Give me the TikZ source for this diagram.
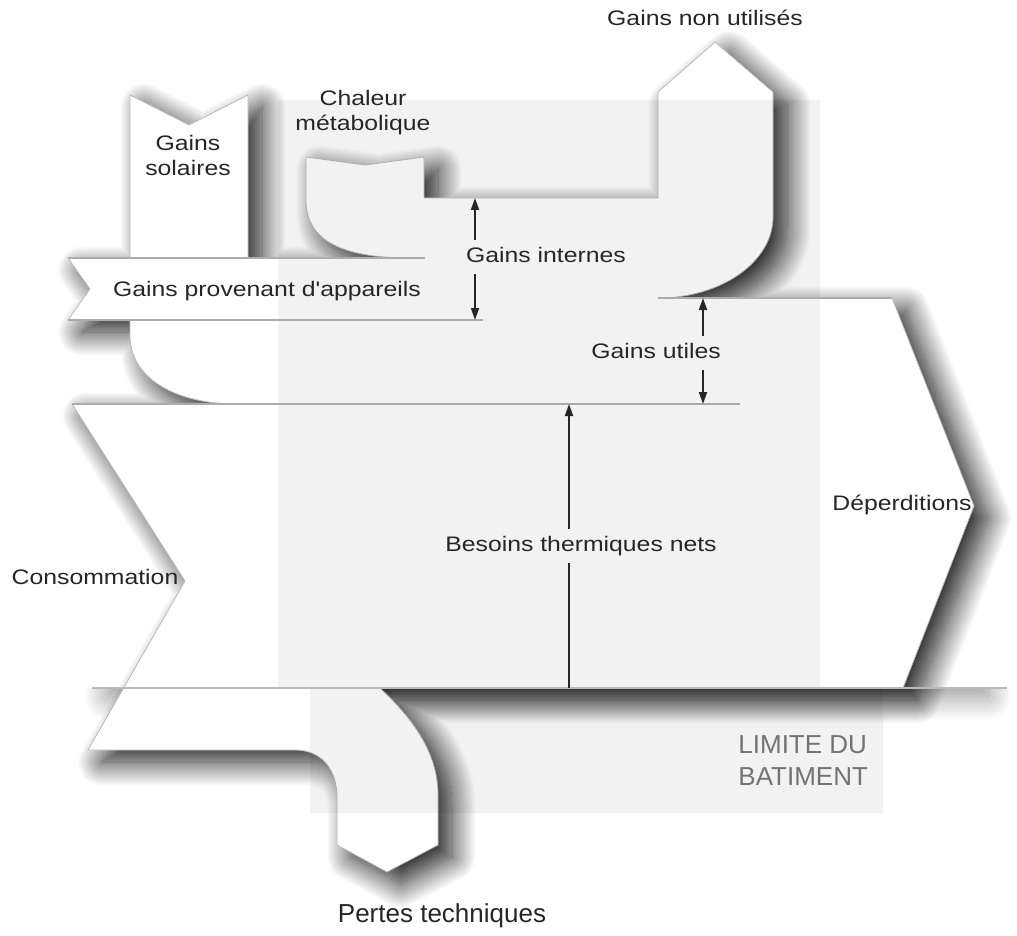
\documentclass[tikz,border=0pt]{standalone}
\usepackage{fontspec}
\setmainfont{Liberation Sans}
\newfontfamily\etiq[FakeStretch=1.18]{Liberation Sans}
\usetikzlibrary{arrows.meta,shadows.blur}

\tikzset{
  etiquette/.style={font={\etiq\fontsize{10.5}{12.6}\selectfont}, text=black!85,
    inner xsep=1pt, inner ysep=3pt, text height=8pt, text depth=2.5pt, align=center},
  grand/.style={font={\fontsize{13}{16}\selectfont}, inner sep=1pt},
  fleche/.style={-{Triangle[length=6pt,width=4pt]}, line width=0.9pt, black!85},
  tige/.style={line width=0.9pt, black!85},
  ombre/.style={blur shadow={shadow xshift=7pt, shadow yshift=-6pt,
    shadow blur radius=12pt, shadow blur steps=24, shadow opacity=90}},
  ombresol/.style={blur shadow={shadow xshift=4pt, shadow yshift=-4pt,
    shadow blur radius=12pt, shadow blur steps=18, shadow opacity=45}},
  trait/.style={line width=0.7pt, gray!65},
}

\begin{document}
\begin{tikzpicture}[x=0.5pt,y=-0.5pt]
    \useasboundingbox (0,0) rectangle (1017,936);

    % 地面线下方的阴影
    \begin{scope}
        \clip (0,688) rectangle (1017,936);
        \path[ombresol] (100,640) rectangle (980,688);
    \end{scope}

    % 能量流（整体一块白色）
    \filldraw[ombre, fill=white, draw=gray!55, line width=0.4pt]
        (130,95) -- (189,125) -- (248,95) -- (248,258) -- (412,258)
        .. controls (350,258) and (306,245) .. (306,200) -- (306,157)
        -- (365,165) -- (424,157) -- (424,198) -- (658,198) -- (658,92)
        -- (715,42) -- (773,92) -- (773,217)
        .. controls (773,262) and (721,298) .. (658,298) -- (892,298)
        -- (974,506) -- (903,688) -- (380,688)
        .. controls (412,718) and (438,752) .. (438,795) -- (438,845)
        -- (387,872) -- (337,845) -- (337,797)
        .. controls (337,770) and (322,750) .. (295,750) -- (88,750)
        -- (185,581) -- (72,404) -- (237,404)
        .. controls (178,404) and (130,380) .. (130,335) -- (130,320)
        -- (68,320) -- (90,289) -- (68,258) -- (130,258) -- cycle;

    % 建筑边界（浅灰）
    \fill[black, opacity=0.05] (278,100) rectangle (820,688) (310,688) rectangle (883,813);

    % 细分隔线
    \foreach \y/\xa/\xb in {258/68/425, 320/68/483, 404/72/740, 298/658/892} {
        \draw[trait] (\xa,\y) -- (\xb,\y);
    }
    \draw[line width=0.9pt, gray!55] (92,688) -- (1007,688);

    % 文字
    \node[etiquette] (nonutil) at (705,20) {Gains non utilisés};
    \node[etiquette, inner ysep=0pt] (chaleur) at (363,125) {Chaleur\\métabolique};
    \node[etiquette, inner ysep=0pt] (solaires) at (188,170) {Gains\\solaires};
    \node[etiquette] (appareils) at (267,291) {Gains provenant d'appareils};
    \node[etiquette] (internes) at (546,257) {Gains internes};
    \node[etiquette] (utiles) at (656,353) {Gains utiles};
    \node[etiquette] (besoins) at (581,546) {Besoins thermiques nets};
    \node[etiquette] (consom) at (95,579) {Consommation};
    \node[etiquette] (deperd) at (902,505) {Déperditions};
    \node[grand, text=black!55, anchor=west, align=left] (limite) at (736,761) {LIMITE DU\\BATIMENT};
    \node[grand, text=black!85] (pertes) at (442,916) {Pertes techniques};

    % 箭头端点
    \coordinate (giHaut) at (475,198);
    \coordinate (giBas) at (475,320);
    \coordinate (guHaut) at (703,298);
    \coordinate (guBas) at (703,404);
    \coordinate (bnHaut) at (569,404);
    \coordinate (bnBas) at (569,688);

    % 箭头
    \draw[fleche] (internes.north -| giHaut) -- (giHaut);
    \draw[fleche] (internes.south -| giBas) -- (giBas);
    \draw[fleche] (utiles.north -| guHaut) -- (guHaut);
    \draw[fleche] (utiles.south -| guBas) -- (guBas);
    \draw[fleche] (besoins.north -| bnHaut) -- (bnHaut);
    \draw[tige] (besoins.south -| bnBas) -- (bnBas);
\end{tikzpicture}
\end{document}
